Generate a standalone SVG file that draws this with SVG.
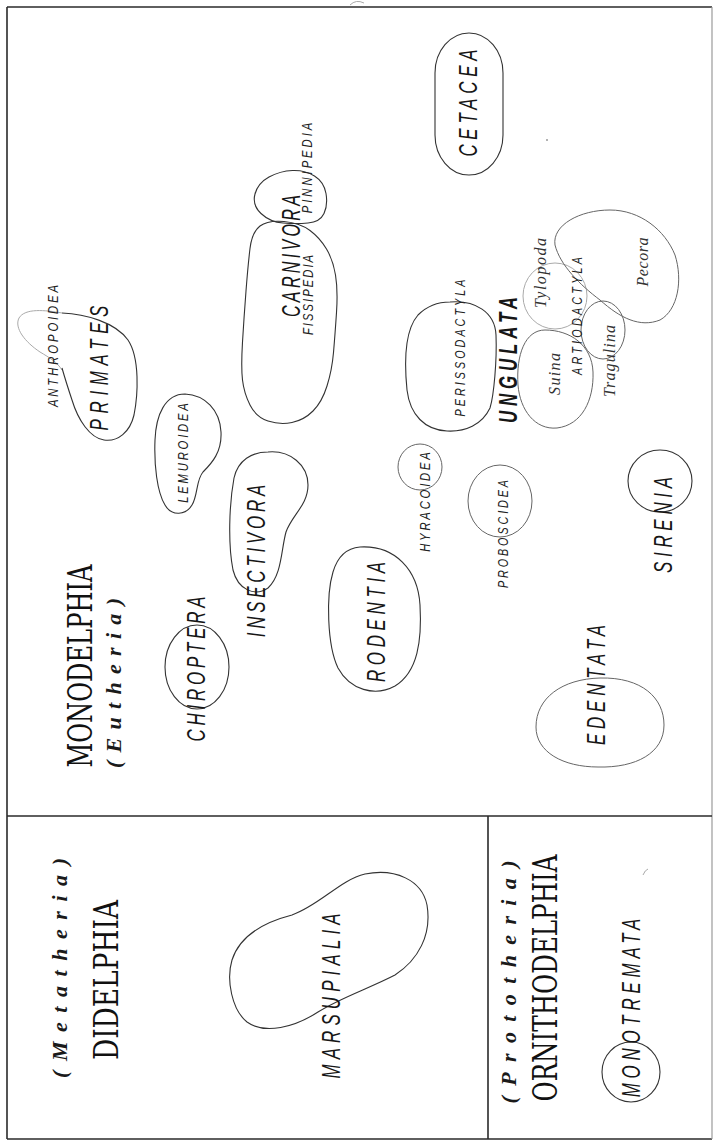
<svg xmlns="http://www.w3.org/2000/svg" width="713" height="1142" viewBox="0 0 713 1142">
<style>
.frame{stroke:#2a2a2a;stroke-width:1.6;fill:none}
.frameL{stroke:#9a9a9a;stroke-width:1.2;fill:none}
.b{fill:none;stroke:#333;stroke-width:1.1}
.bm{fill:none;stroke:#666;stroke-width:1}
.bl{fill:none;stroke:#aaa;stroke-width:1}
.big{font-family:"Liberation Sans",Arial,sans-serif;font-style:italic;font-size:26px;fill:#161616;text-anchor:middle}
.sm{font-family:"Liberation Sans",Arial,sans-serif;font-style:italic;font-size:15px;fill:#222;text-anchor:middle}
.it{font-family:"Liberation Serif","Times New Roman",serif;font-style:italic;font-size:16px;fill:#333;text-anchor:middle}
.hd{font-family:"DejaVu Serif Condensed","DejaVu Serif",serif;font-size:33px;fill:#111;text-anchor:middle}
.hw{font-family:"Liberation Serif","Times New Roman",serif;font-style:italic;font-weight:bold;font-size:22px;fill:#1a1a1a;text-anchor:middle}
</style>
<rect width="713" height="1142" fill="#fff"/>
<g id="frame">
<line class="frame" x1="7" y1="7" x2="712" y2="7"/>
<line class="frame" x1="7" y1="7" x2="7" y2="1139"/>
<line class="frame" x1="7" y1="1139" x2="712" y2="1139"/>
<line class="frameL" x1="712" y1="7" x2="712" y2="1139"/>
<line class="frame" x1="7" y1="816" x2="712" y2="816"/>
<line class="frame" x1="488" y1="816" x2="488" y2="1139"/>
<path class="bl" d="M350,5 Q356,-1 364,3"/>
<path class="bl" d="M643,875 Q645,870 648,869"/>
<circle cx="547" cy="140" r="1" fill="#999"/>
</g>
<g id="connectors"></g>
<g id="monodelphia">
<text class="hd" font-size="32" textLength="203" lengthAdjust="spacingAndGlyphs" transform="translate(92,666) rotate(-90)">MONODELPHIA</text>
<text class="hw" font-size="24" textLength="170" lengthAdjust="spacing" transform="translate(121,683) rotate(-90)">(Eutheria)</text>
</g>
<g id="cetacea">
<rect class="b" x="435" y="33" width="68" height="142" rx="34" ry="40"/>
<text class="big" font-size="28" textLength="165" lengthAdjust="spacing" transform="translate(477,103) rotate(-90) scale(0.65,1)">CETACEA</text>
</g>
<g id="pinnipedia">
<path class="b" d="M261,213.5 Q252,205 255,194 Q258,183 269,177 Q280,171 292.5,170.5 Q305,170 314.5,176 Q324,182 326,193.5 Q328,205 324,213.5 Q320,222 308,223 Q296,224 283,223 Q270,222 261,213.5Z"/>
<text class="sm" textLength="121" lengthAdjust="spacing" transform="translate(312,168) rotate(-90) scale(0.75,1)">PINNIPEDIA</text>
</g>
<g id="carnivora">
<path class="b" d="M250,248.5 Q252,232 260,226 Q268,220 284,221.5 Q300,223 310,230.5 Q320,238 326.5,249 Q333,260 335.5,275 Q338,290 336.5,312.5 Q335,335 333.5,352.5 Q332,370 327,386 Q322,402 313,411 Q304,420 292,422.5 Q280,425 268,421 Q256,417 250,405 Q244,393 242.5,380 Q241,367 242.5,342 Q244,317 246,291 Q248,265 250,248.5Z"/>
<text class="big" font-size="27" textLength="197" lengthAdjust="spacing" transform="translate(300,256) rotate(-90) scale(0.62,1)">CARNIVORA</text>
<text class="sm" textLength="107" lengthAdjust="spacing" transform="translate(313,295) rotate(-90) scale(0.75,1)">FISSIPEDIA</text>
</g>
<g id="primates">
<path class="bl" d="M62,313 C45,310 25,308 19,318 C14,328 25,342 40,352 C50,358 57,362 62,370"/>
<path class="b" d="M62,313 C85,314 115,322 128,340 C140,358 138,395 134,415 C130,432 118,442 104,440 C90,438 78,420 72,400 C67,385 64,375 62,368"/>
<text class="sm" textLength="163" lengthAdjust="spacing" transform="translate(58,346) rotate(-90) scale(0.75,1)">ANTHROPOIDEA</text>
<text class="big" font-size="27" textLength="192" lengthAdjust="spacing" transform="translate(108,368) rotate(-90) scale(0.65,1)">PRIMATES</text>
</g>
<g id="lemuroidea">
<path class="b" d="M185,394 C205,395 220,410 221,432 C222,452 212,463 203,472 C196,480 198,495 192,505 C186,515 172,517 165,505 C157,492 154,465 155,440 C156,415 165,394 185,394Z"/>
<text class="sm" textLength="133" lengthAdjust="spacing" transform="translate(188,453) rotate(-90) scale(0.75,1)">LEMUROIDEA</text>
</g>
<g id="insectivora">
<path class="b" d="M268,452 C290,450 308,465 308,485 C308,505 292,515 286,532 C281,550 282,575 268,588 C255,597 238,590 233,570 C228,545 229,505 234,478 C238,460 252,452 268,452Z"/>
<text class="big" textLength="235" lengthAdjust="spacing" transform="translate(265,561) rotate(-90) scale(0.65,1)">INSECTIVORA</text>
</g>
<g id="chiroptera">
<ellipse class="b" cx="197" cy="667" rx="32" ry="42"/>
<text class="big" textLength="223" lengthAdjust="spacing" transform="translate(205,669) rotate(-90) scale(0.65,1)">CHIROPTERA</text>
</g>
<g id="rodentia">
<path class="b" d="M360,547 C395,545 418,570 420,605 C422,640 418,672 395,686 C375,697 350,690 338,668 C327,645 326,595 333,572 C338,555 348,548 360,547Z"/>
<text class="big" textLength="185" lengthAdjust="spacing" transform="translate(385,622) rotate(-90) scale(0.65,1)">RODENTIA</text>
</g>
<g id="hyracoidea">
<ellipse class="bm" cx="420" cy="467" rx="22" ry="23"/>
<text class="sm" textLength="133" lengthAdjust="spacing" transform="translate(430,502) rotate(-90) scale(0.75,1)">HYRACOIDEA</text>
</g>
<g id="proboscidea">
<ellipse class="bm" cx="500" cy="501" rx="32" ry="36"/>
<text class="sm" textLength="150" lengthAdjust="spacing" transform="translate(508,534) rotate(-90) scale(0.72,1)">PROBOSCIDEA</text>
</g>
<g id="sirenia">
<ellipse class="b" cx="660" cy="481" rx="32" ry="31"/>
<text class="big" font-size="27" textLength="148" lengthAdjust="spacing" transform="translate(672,525) rotate(-90) scale(0.65,1)">SIRENIA</text>
</g>
<g id="edentata">
<path class="bm" d="M600,678 C642,677 664,698 664,725 C664,753 636,768 598,767 C563,767 536,752 536,727 C536,698 562,679 600,678Z"/>
<text class="big" font-size="27" textLength="185" lengthAdjust="spacing" transform="translate(605,685) rotate(-90) scale(0.65,1)">EDENTATA</text>
</g>
<g id="perissodactyla">
<path class="b" d="M450,302 C475,300 495,312 496,335 C497,360 494,395 490,408 C482,425 465,432 447,431 C425,430 410,415 407,390 C404,360 405,330 418,315 C428,305 440,302 450,302Z"/>
<text class="sm" textLength="190" lengthAdjust="spacing" transform="translate(465,348) rotate(-90) scale(0.72,1)">PERISSODACTYLA</text>
</g>
<g id="ungulata">
<text class="big" font-size="25" font-weight="bold" textLength="194" lengthAdjust="spacing" transform="translate(517,360) rotate(-90) scale(0.65,1)">UNGULATA</text>
</g>
<g id="artiodactyla">
<ellipse class="bl" cx="555" cy="296" rx="32" ry="33"/>
<ellipse class="bm" cx="603" cy="330" rx="22" ry="29"/>
<path class="bm" d="M545,330 C570,330 592,345 593,372 C594,400 582,425 557,428 C535,430 520,410 518,385 C516,355 525,330 545,330Z"/>
<path class="bm" d="M610,210 C640,210 665,230 675,255 C683,280 678,310 660,320 C640,328 620,318 600,300 C580,285 560,265 555,245 C552,225 580,210 610,210Z"/>
<text class="sm" textLength="164" lengthAdjust="spacing" transform="translate(582,316) rotate(-90) scale(0.72,1)">ARTIODACTYLA</text>
<text class="it" textLength="70" lengthAdjust="spacing" transform="translate(546,273) rotate(-90)">Tylopoda</text>
<text class="it" textLength="42" lengthAdjust="spacing" transform="translate(560,374) rotate(-90)">Suina</text>
<text class="it" textLength="72" lengthAdjust="spacing" transform="translate(615,361) rotate(-90)">Tragulina</text>
<text class="it" textLength="49" lengthAdjust="spacing" transform="translate(648,262) rotate(-90)">Pecora</text>
</g>
<g id="didelphia">
<text class="hw" font-size="28" textLength="220" lengthAdjust="spacing" transform="translate(67,968) rotate(-90)">(Metatheria)</text>
<text class="hd" font-size="34" textLength="160" lengthAdjust="spacingAndGlyphs" transform="translate(118,980) rotate(-90)">DIDELPHIA</text>
</g>
<g id="marsupialia">
<path class="b" d="M232,960 C240,935 265,922 292,915 C320,905 340,880 365,874 C395,868 422,880 427,905 C432,935 418,960 395,975 C370,988 340,998 318,1012 C295,1027 265,1035 247,1022 C232,1010 226,980 232,960Z"/>
<text class="big" textLength="254" lengthAdjust="spacing" transform="translate(340,996) rotate(-90) scale(0.65,1)">MARSUPIALIA</text>
</g>
<g id="ornithodelphia">
<text class="hw" font-size="22" textLength="243" lengthAdjust="spacing" transform="translate(516,982) rotate(-90)">(Prototheria)</text>
<text class="hd" font-size="34" textLength="247" lengthAdjust="spacingAndGlyphs" transform="translate(557,978) rotate(-90)">ORNITHODELPHIA</text>
</g>
<g id="monotremata">
<ellipse class="b" cx="631" cy="1072" rx="29" ry="30"/>
<text class="big" textLength="275" lengthAdjust="spacing" transform="translate(640,1008) rotate(-90) scale(0.65,1)">MONOTREMATA</text>
</g>
</svg>
